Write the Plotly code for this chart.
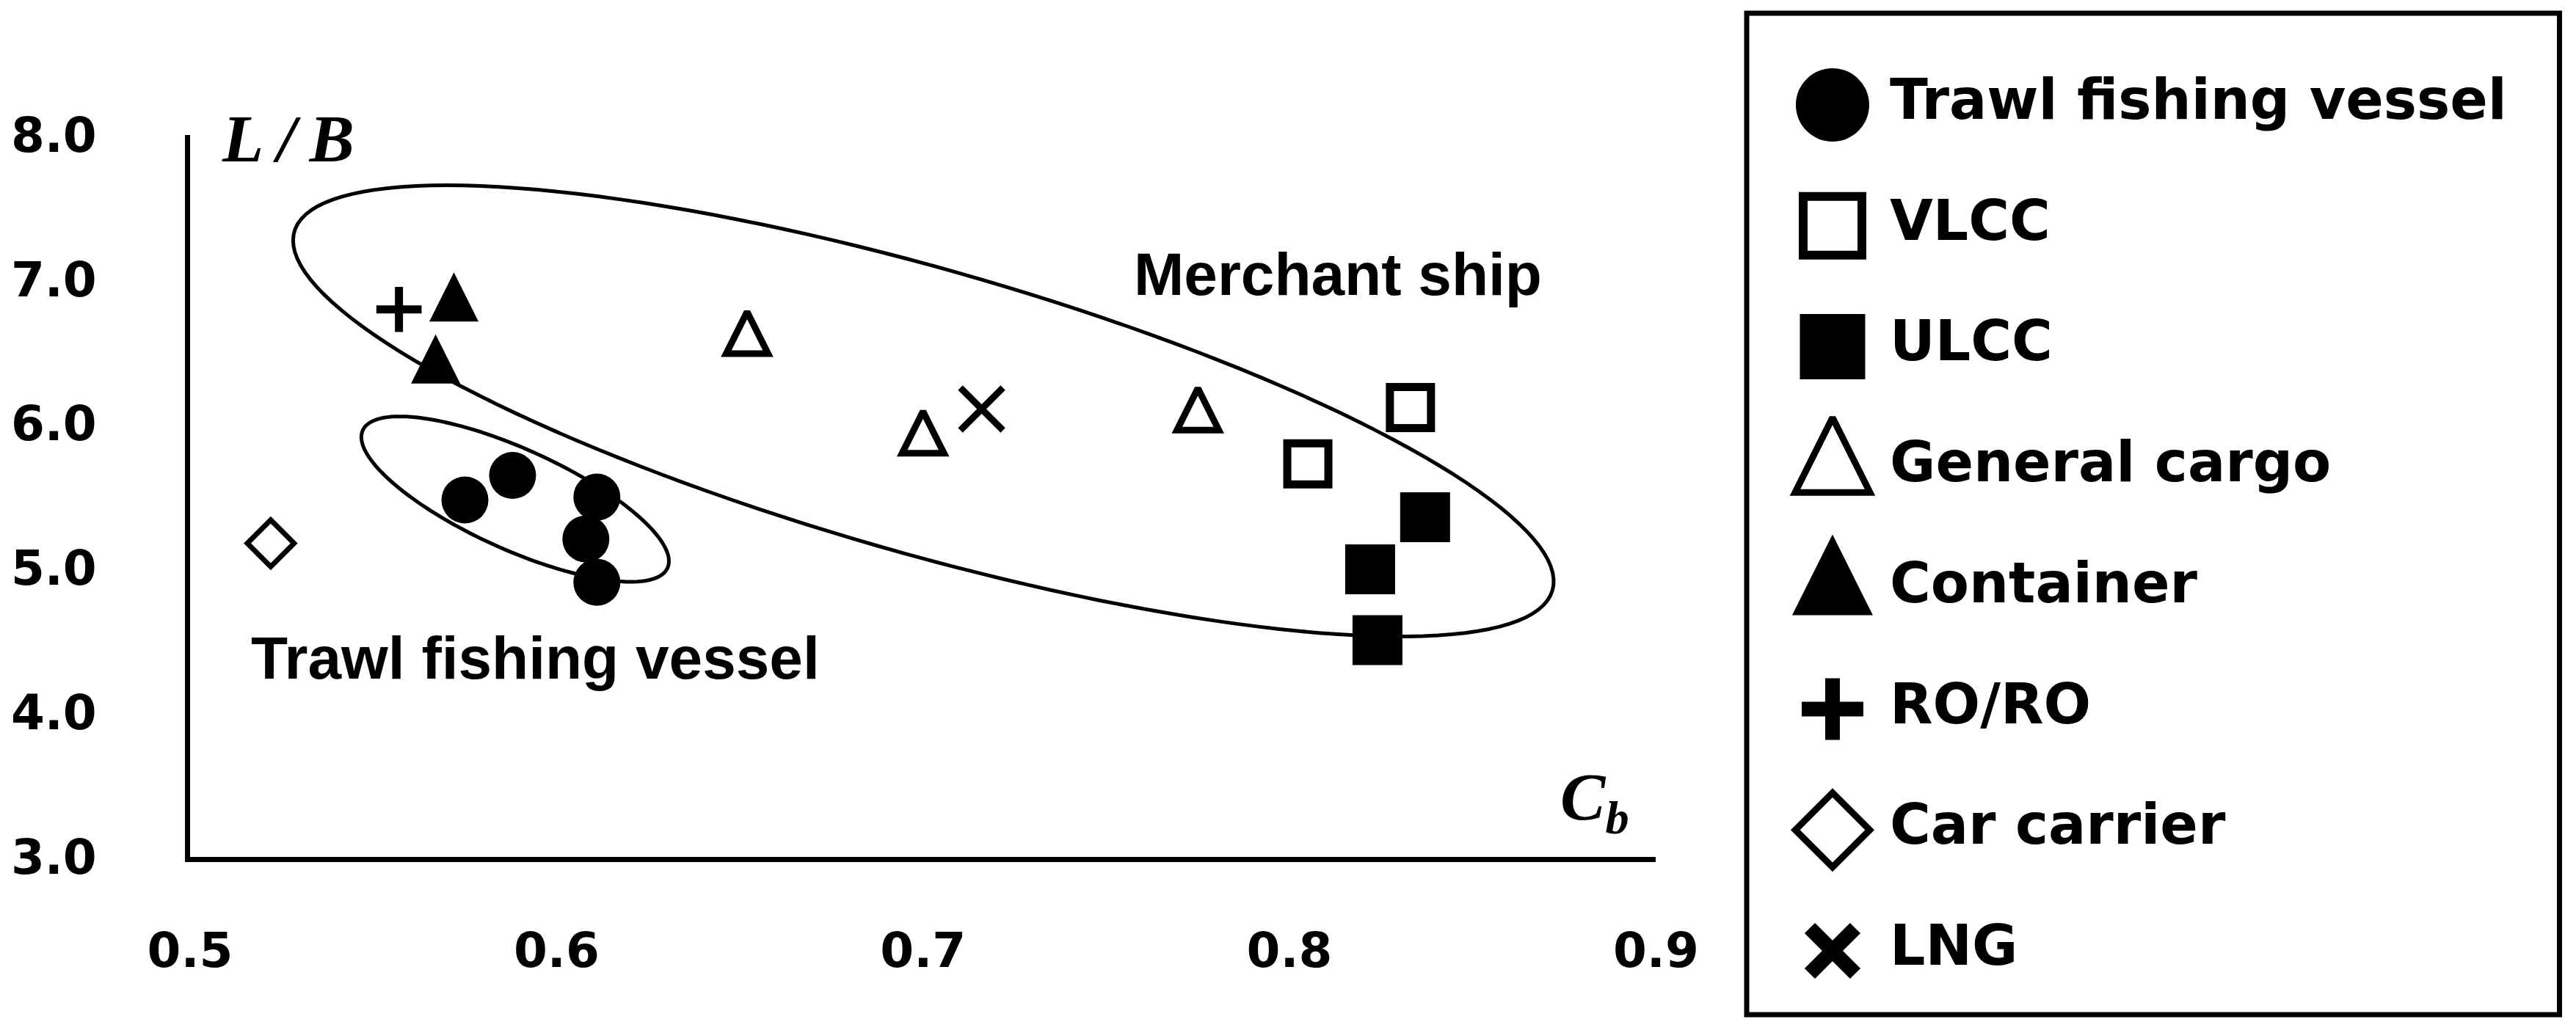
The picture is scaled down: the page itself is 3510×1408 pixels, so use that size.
import numpy as np
import plotly.graph_objects as go

# ship groups, block coefficient C_b and length/breadth ratio L/B
categories = ["Trawl fishing vessel", "VLCC", "ULCC", "General cargo",
              "Container", "RO/RO", "Car carrier", "LNG"]

trawl_cb = [0.575, 0.588, 0.611, 0.608, 0.611]
trawl_lb = [5.47, 5.64, 5.49, 5.20, 4.90]
vlcc_cb = [0.805, 0.833]
vlcc_lb = [5.72, 6.11]
ulcc_cb = [0.837, 0.822, 0.824]
ulcc_lb = [5.35, 4.99, 4.50]
cargo_cb = [0.652, 0.700, 0.775]
cargo_lb = [6.58, 5.89, 6.05]
container_cb = [0.572, 0.567]
container_lb = [6.82, 6.39]
roro_cb = [0.557]
roro_lb = [6.79]
car_cb = [0.522]
car_lb = [5.17]
lng_cb = [0.716]
lng_lb = [6.10]

x_ticks = [0.5, 0.6, 0.7, 0.8, 0.9]
y_ticks = [3, 4, 5, 6, 7, 8]

series_cb = [trawl_cb, vlcc_cb, ulcc_cb, cargo_cb, container_cb, roro_cb, car_cb, lng_cb]
series_lb = [trawl_lb, vlcc_lb, ulcc_lb, cargo_lb, container_lb, roro_lb, car_lb, lng_lb]

# marker styles in the plot and in the legend box
styles = [
    dict(symbol="circle", size=64, lw=0, leg_size=100, leg_lw=0),
    dict(symbol="square-open", size=56, lw=11, leg_size=80, leg_lw=12),
    dict(symbol="square", size=68, lw=0, leg_size=89, leg_lw=0),
    dict(symbol="arrow-down-open", size=57, lw=9, leg_size=102, leg_lw=9, tri=True),
    dict(symbol="arrow-down", size=67, lw=0, leg_size=110, leg_lw=0, tri=True),
    dict(symbol="cross-thin-open", size=44, lw=11, leg_size=60, leg_lw=20),
    dict(symbol="diamond-open", size=49, lw=7, leg_size=78, leg_lw=9),
    dict(symbol="x-thin-open", size=58, lw=9, leg_size=62, leg_lw=20),
]

W, H = 3510, 1408
OFF = 8               # the page body margin shifts the figure by this much
PX_X = 1999.0 / 0.4   # pixels per unit of C_b
PX_Y = 984.0 / 5.0    # pixels per unit of L/B


def px(x):
    return (x - OFF) / W


def py(y):
    return 1 - (y - OFF) / H


def marker(st, legend=False):
    size = st["leg_size"] if legend else st["size"]
    lw = st["leg_lw"] if legend else st["lw"]
    m = dict(symbol=st["symbol"], size=size, color="black",
             line=dict(width=lw, color="black"))
    if st.get("tri"):
        # point the arrow up and centre the triangle on its point
        m["angle"] = 180
        m["standoff"] = size * 2 / 3
    return m


def ellipse_path(cx, cy, a_px, b_px, tilt_deg, n=160):
    t = np.linspace(0, 2 * np.pi, n)
    th = np.radians(tilt_deg)
    dx = a_px * np.cos(t) * np.cos(th) - b_px * np.sin(t) * np.sin(th)
    dy = a_px * np.cos(t) * np.sin(th) + b_px * np.sin(t) * np.cos(th)
    xs = cx + dx / PX_X
    ys = cy - dy / PX_Y
    return "M " + " L ".join(f"{x:.5f},{y:.5f}" for x, y in zip(xs, ys)) + " Z"


fig = go.Figure()

for name, xs, ys, st in zip(categories, series_cb, series_lb, styles):
    fig.add_trace(go.Scatter(x=xs, y=ys, mode="markers", name=name,
                             marker=marker(st), cliponaxis=False,
                             hoverinfo="skip", showlegend=False))

# hand-made legend on its own axes so the symbols can be large
for name, st in zip(categories, styles):
    fig.add_trace(go.Scatter(x=[0.1056], y=[name], mode="markers",
                             marker=marker(st, legend=True), xaxis="x2", yaxis="y2",
                             cliponaxis=False, hoverinfo="skip", showlegend=False))
fig.add_trace(go.Scatter(x=[0.1761] * len(categories), y=categories, mode="text",
                         text=categories, textposition="middle right",
                         textfont=dict(family="DejaVu Sans", size=76, color="black", weight="bold"),
                         xaxis="x2", yaxis="y2", cliponaxis=False,
                         hoverinfo="skip", showlegend=False))

label_font = dict(family="Liberation Sans", size=82, color="black", weight="bold")
math_font = dict(family="Liberation Serif", size=92, color="black", weight="bold", style="italic")
tick_font = dict(family="DejaVu Sans", size=66, color="black", weight="bold")

fig.update_layout(
    width=W, height=H,
    margin=dict(l=0, r=0, t=0, b=0, pad=0, autoexpand=False),
    paper_bgcolor="white", plot_bgcolor="white",
    showlegend=False,
    xaxis=dict(domain=[px(259), px(2256.4)], range=[0.5, 0.9],
               tickvals=x_ticks, tickformat=".1f", ticks="", automargin=False,
               showline=True, linecolor="black", linewidth=7,
               showgrid=False, zeroline=False, ticklabelstandoff=64,
               tickfont=tick_font),
    yaxis=dict(domain=[py(1167.6), py(183.6)], range=[3, 8],
               tickvals=y_ticks, tickformat=".1f", ticks="", automargin=False,
               showline=True, linecolor="black", linewidth=7,
               showgrid=False, zeroline=False, ticklabelstandoff=107,
               tickfont=tick_font),
    xaxis2=dict(domain=[px(2380), px(3487.5)], range=[0, 1], visible=False,
                automargin=False),
    yaxis2=dict(domain=[py(1296), py(143)], range=[7, 0], type="category",
                categoryorder="array", categoryarray=categories, visible=False,
                automargin=False),
    shapes=[
        dict(type="path", xref="x", yref="y",
             path=ellipse_path(0.7001, 6.087, 892, 194, 15.9),
             line=dict(color="black", width=5)),
        dict(type="path", xref="x", yref="y",
             path=ellipse_path(0.5887, 5.476, 228, 68.5, 24.3),
             line=dict(color="black", width=5)),
        dict(type="rect", xref="paper", yref="paper",
             x0=px(2380), x1=px(3487.5), y0=py(1383), y1=py(18),
             line=dict(color="black", width=7)),
    ],
    annotations=[
        dict(x=0.8132, y=7.036, xref="x", yref="y", text="Merchant ship",
             showarrow=False, font=label_font, xanchor="center", yanchor="middle"),
        dict(x=0.5942, y=4.38, xref="x", yref="y", text="Trawl fishing vessel",
             showarrow=False, font=label_font, xanchor="center", yanchor="middle"),
        dict(x=0.5267, y=7.972, xref="x", yref="y", text="L\u2009/\u2009B",
             showarrow=False, font=math_font, xanchor="center", yanchor="middle"),
        dict(x=0.8833, y=3.38, xref="x", yref="y", text="C<sub>b</sub>",
             showarrow=False, font=math_font, xanchor="center", yanchor="middle"),
    ],
)

fig.write_html("out.html")
